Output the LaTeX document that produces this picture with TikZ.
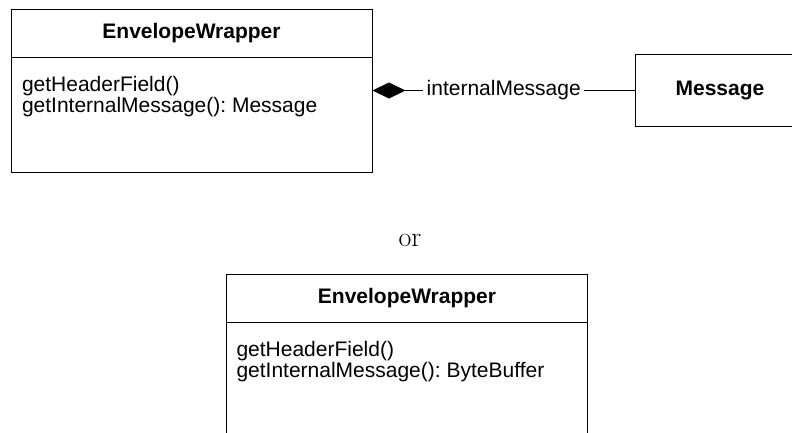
\documentclass[tikz,border=0pt]{standalone}
\usepackage{fontspec}
\usetikzlibrary{positioning,arrows.meta}
\newfontfamily\umlfont{Liberation Sans}
\frenchspacing

\begin{document}
\begin{tikzpicture}[x=1pt,y=-1pt,line width=1pt,
    class box/.style={draw,rectangle,minimum width=361pt,minimum height=163pt,inner sep=0pt},
    class name/.style={rectangle,minimum width=361pt,minimum height=48pt,inner sep=0pt,font=\umlfont\fontsize{21}{21}\selectfont\bfseries},
    ops text/.style={align=left,inner sep=0pt,font=\umlfont\fontsize{21}{21.5}\selectfont},
    role/.style={fill=white,inner sep=3.5pt,font=\umlfont\fontsize{21}{21}\selectfont}]

    \useasboundingbox (0,0) rectangle (792,432);

    \node[class box] (wrap1) at (191.5,90.5) {};
    \node[class name,anchor=north] (name1) at (wrap1.north) {EnvelopeWrapper};
    \draw (name1.south west) -- (name1.south east);
    \node[ops text] (ops1) [below right=18pt and 11pt of name1.south west] {getHeaderField()\\getInternalMessage(): Message};

    \node[draw,rectangle,minimum width=400pt,minimum height=72pt,anchor=west] (msg) at (635,90.5) {};
    \node[font=\umlfont\fontsize{21}{21}\selectfont\bfseries] (msgname) at (720,90.5) {Message};

    \draw[-{Diamond[length=33pt,width=16pt]}] (msg.west) to node[role]{internalMessage} (wrap1.east);

    \node[font=\fontsize{28}{30}\selectfont] (or) at (410,240) {or};

    \node[class box] (wrap2) at (407,355.5) {};
    \node[class name,anchor=north] (name2) at (wrap2.north) {EnvelopeWrapper};
    \draw (name2.south west) -- (name2.south east);
    \node[ops text] (ops2) [below right=18pt and 10pt of name2.south west] {getHeaderField()\\getInternalMessage(): ByteBuffer};

\end{tikzpicture}
\end{document}
